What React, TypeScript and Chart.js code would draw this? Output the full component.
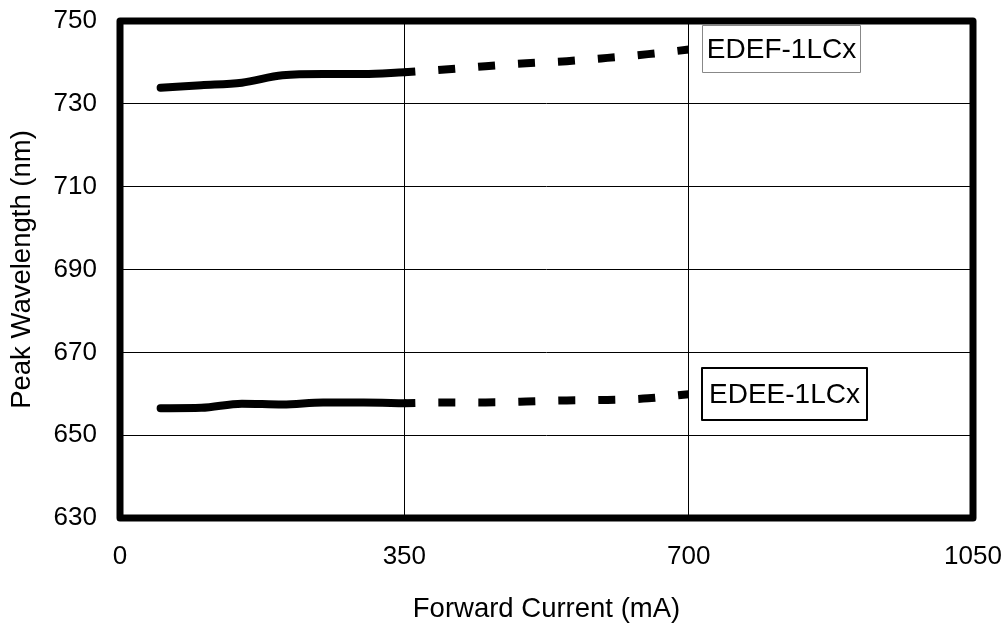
import React, { useEffect, useRef } from "react";
import { Chart, registerables } from "chart.js";

Chart.register(...registerables);

const currentSolid = [50, 100, 150, 200, 250, 300, 350];
const currentDashed = [350, 400, 450, 500, 550, 600, 650, 700];
const edefSolid = [733.9, 734.5, 735.1, 736.9, 737.2, 737.2, 737.6];
const edefDashed = [737.6, 738.3, 739.1, 739.8, 740.3, 741.1, 742.0, 743.1];
const edeeSolid = [656.5, 656.6, 657.6, 657.4, 657.9, 657.9, 657.7];
const edeeDashed = [657.7, 657.9, 657.9, 658.1, 658.4, 658.5, 658.9, 659.9];
const xTicks = [0, 350, 700, 1050];
const yTicks = [630, 650, 670, 690, 710, 730, 750];
const seriesLabels = ["EDEF-1LCx", "EDEE-1LCx"];

const FONT = "'Liberation Sans', Arial, sans-serif";

const pts = (xs: number[], ys: number[]) => xs.map((x, i) => ({ x, y: ys[i] }));

const framePlugin = {
  id: "frameAndLabels",
  afterDraw(chart: any) {
    const { ctx, chartArea } = chart;
    const { left, top, right, bottom } = chartArea;
    ctx.save();
    ctx.strokeStyle = "#000";
    ctx.lineWidth = 7;
    ctx.lineJoin = "round";
    ctx.strokeRect(left, top, right - left, bottom - top);

    const boxes = [
      { text: seriesLabels[0], x: 702, y: 25, w: 159, h: 48, color: "#888", lw: 1 },
      { text: seriesLabels[1], x: 701, y: 367, w: 167, h: 54, color: "#000", lw: 2 },
    ];
    ctx.font = `28px ${FONT}`;
    ctx.textAlign = "center";
    ctx.textBaseline = "middle";
    boxes.forEach((b) => {
      ctx.fillStyle = "#fff";
      ctx.fillRect(b.x, b.y, b.w, b.h);
      ctx.strokeStyle = b.color;
      ctx.lineWidth = b.lw;
      ctx.strokeRect(b.x + b.lw / 2, b.y + b.lw / 2, b.w - b.lw, b.h - b.lw);
      ctx.fillStyle = "#000";
      ctx.fillText(b.text, b.x + b.w / 2, b.y + b.h / 2 + 1);
    });
    ctx.restore();
  },
};

export default function App() {
  const ref = useRef<HTMLCanvasElement>(null);
  useEffect(() => {
    if (!ref.current) return;
    const lineBase = {
      borderColor: "#000",
      borderWidth: 8,
      pointRadius: 0,
      fill: false,
      cubicInterpolationMode: "monotone" as const,
    };
    const chart = new Chart(ref.current, {
      type: "line",
      data: {
        datasets: [
          { ...lineBase, label: seriesLabels[0], data: pts(currentSolid, edefSolid), borderCapStyle: "round" },
          { ...lineBase, label: seriesLabels[0] + " ext", data: pts(currentDashed, edefDashed), borderDash: [17, 23], borderDashOffset: 6, borderCapStyle: "butt" },
          { ...lineBase, label: seriesLabels[1], data: pts(currentSolid, edeeSolid), borderCapStyle: "round" },
          { ...lineBase, label: seriesLabels[1] + " ext", data: pts(currentDashed, edeeDashed), borderDash: [17, 23], borderDashOffset: 6, borderCapStyle: "butt" },
        ],
      },
      options: {
        animation: false,
        responsive: false,
        layout: { padding: { top: 21, right: 29, left: 0, bottom: 0 } },
        plugins: { legend: { display: false }, tooltip: { enabled: false } },
        scales: {
          x: {
            type: "linear",
            min: 0,
            max: 1050,
            afterBuildTicks: (s: any) => {
              s.ticks = xTicks.map((v) => ({ value: v }));
            },
            afterFit: (s: any) => {
              s.height = 108;
              s.paddingLeft = 0;
              s.paddingRight = 0;
            },
            grid: { color: "#000", lineWidth: 1, drawTicks: false },
            border: { display: false },
            ticks: {
              color: "#000",
              padding: 23,
              font: { family: FONT, size: 26 },
              callback: (v: any) => String(v),
            },
            title: {
              display: true,
              text: "Forward Current (mA)",
              color: "#000",
              font: { family: FONT, size: 27.5 },
              padding: { top: 0, bottom: 0 },
            },
          },
          y: {
            type: "linear",
            min: 630,
            max: 750,
            afterBuildTicks: (s: any) => {
              s.ticks = yTicks.map((v) => ({ value: v }));
            },
            afterFit: (s: any) => {
              s.width = 120;
              s.paddingTop = 0;
              s.paddingBottom = 0;
            },
            grid: { color: "#000", lineWidth: 1, drawTicks: false },
            border: { display: false },
            ticks: {
              color: "#000",
              padding: 23,
              font: { family: FONT, size: 26 },
              callback: (v: any) => String(v),
            },
            title: {
              display: true,
              text: "Peak Wavelength (nm)",
              color: "#000",
              font: { family: FONT, size: 27.5 },
              padding: { top: 6, bottom: 0 },
            },
          },
        },
      },
      plugins: [framePlugin],
    });
    return () => chart.destroy();
  }, []);
  return (
    <div style={{ position: "absolute", left: 0, top: 0, width: 1002, height: 626, background: "#fff" }}>
      <canvas ref={ref} width={1002} height={626} />
    </div>
  );
}
